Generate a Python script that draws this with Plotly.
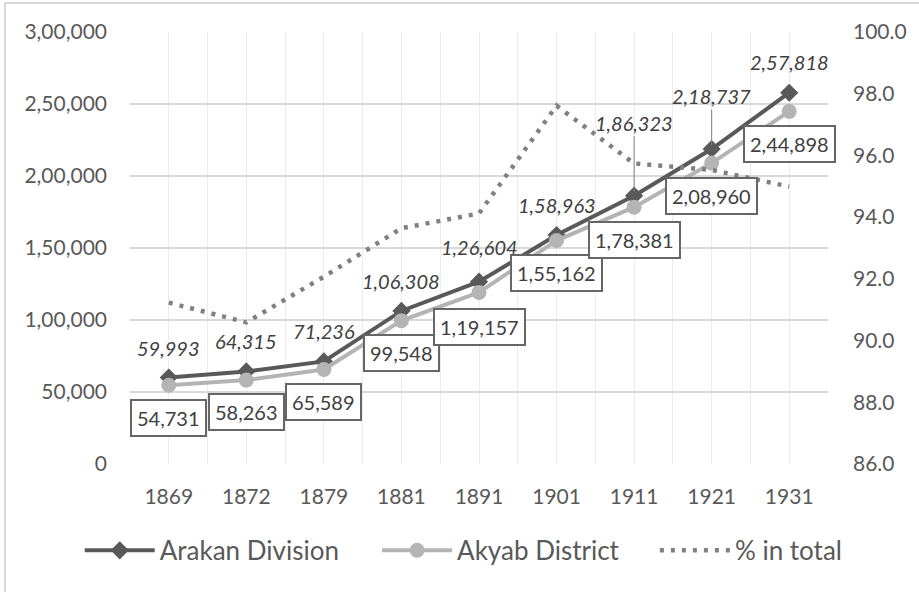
import plotly.graph_objects as go

years = ["1869", "1872", "1879", "1881", "1891", "1901", "1911", "1921", "1931"]
arakan = [59993, 64315, 71236, 106308, 126604, 158963, 186323, 218737, 257818]
akyab = [54731, 58263, 65589, 99548, 119157, 155162, 178381, 208960, 244898]
pct_total = [91.23, 90.59, 92.07, 93.64, 94.12, 97.61, 95.74, 95.53, 94.99]

left_tickvals = [0, 50000, 100000, 150000, 200000, 250000, 300000]
left_ticktext = ["0", "50,000", "1,00,000", "1,50,000", "2,00,000", "2,50,000", "3,00,000"]
right_tickvals = [86, 88, 90, 92, 94, 96, 98, 100]


def indian(n):
    s = str(n)
    if len(s) <= 3:
        return s
    head, tail = s[:-3], s[-3:]
    parts = []
    while len(head) > 2:
        parts.insert(0, head[-2:])
        head = head[:-2]
    if head:
        parts.insert(0, head)
    return ",".join(parts) + "," + tail


idx = list(range(len(years)))
FONT = "Lato"
TXT = "#595959"
LBL = "#404040"

fig = go.Figure()
fig.add_trace(go.Scatter(
    x=idx, y=arakan, name="Arakan Division", mode="lines+markers", legend="legend",
    line=dict(color="#595959", width=4),
    marker=dict(symbol="diamond", size=14, color="#595959"),
))
fig.add_trace(go.Scatter(
    x=idx, y=akyab, name="Akyab District", mode="lines+markers", legend="legend2",
    line=dict(color="#b4b4b4", width=4),
    marker=dict(symbol="circle", size=15, color="#b4b4b4"),
))
fig.add_trace(go.Scatter(
    x=idx, y=pct_total, name="% in total", mode="lines", yaxis="y2", legend="legend3",
    line=dict(color="#808080", width=4.5, dash="4px,7px"),
))

# label offsets (pixels) for Arakan labels above points
arakan_dy = [30, 30, 30, 30, 35, 30, 73, 53, 31]
arakan_leader = [False, False, False, False, False, False, True, True, False]
for i, v in enumerate(arakan):
    txt = "<i>" + indian(v) + "</i>"
    if arakan_leader[i]:
        fig.add_annotation(x=i, y=v, text=txt, showarrow=True,
                           ax=0, ay=-arakan_dy[i], arrowhead=0, arrowwidth=1,
                           arrowcolor="#7f7f7f", standoff=4,
                           font=dict(family=FONT, size=20, color=LBL))
    else:
        fig.add_annotation(x=i, y=v, text=txt, showarrow=False,
                           yshift=arakan_dy[i],
                           font=dict(family=FONT, size=20, color=LBL))

akyab_dy = [-33, -32, -32, -32, -35, -32, -33, -33, -33]
for i, v in enumerate(akyab):
    fig.add_annotation(x=i, y=v, text=indian(v), showarrow=False,
                       yshift=akyab_dy[i],
                       font=dict(family=FONT, size=20, color=LBL),
                       bgcolor="white", bordercolor="#666666", borderwidth=2,
                       borderpad=5)

leg_common = dict(orientation="h", y=-0.2, yanchor="middle", xanchor="left",
                  font=dict(family=FONT, size=26, color=TXT), itemwidth=70,
                  bgcolor="rgba(0,0,0,0)")

fig.update_layout(
    width=919, height=592,
    margin=dict(l=130, r=91, t=32, b=128, autoexpand=False),
    paper_bgcolor="white", plot_bgcolor="white",
    font=dict(family=FONT, color=TXT, size=21),
    showlegend=True,
    legend=dict(x=-0.072, **leg_common),
    legend2=dict(x=0.354, **leg_common),
    legend3=dict(x=0.752, **leg_common),
    xaxis=dict(range=[-0.5, len(years) - 0.5], tickvals=idx, ticktext=years,
               showgrid=True, gridcolor="#ececec", gridwidth=1,
               minor=dict(dtick=0.5, tick0=-0.5, showgrid=True, gridcolor="#ececec", gridwidth=1),
               zeroline=False, showline=False, ticks="", automargin=False,
               ticklabelstandoff=18,
               tickfont=dict(family=FONT, size=21, color=TXT)),
    yaxis=dict(range=[0, 300000], tickvals=left_tickvals, ticktext=left_ticktext,
               showgrid=True, gridcolor="#d9d9d9", gridwidth=1.5, zeroline=False,
               showline=False, ticks="", ticklabelstandoff=22, automargin=False,
               tickfont=dict(family=FONT, size=21, color=TXT)),
    yaxis2=dict(range=[86, 100], tickvals=right_tickvals, tickformat=".1f",
                overlaying="y", side="right", showgrid=False, zeroline=False,
                showline=False, ticks="", ticklabelstandoff=24, automargin=False,
                tickfont=dict(family=FONT, size=21, color=TXT)),
    shapes=[dict(type="rect", xref="paper", yref="paper",
                 x0=-0.179, x1=1.15, y0=-0.4, y1=1.067,
                 line=dict(color="#d9d9d9", width=2), layer="below")],
)

fig.write_html("out.html", config={"displayModeBar": False},
               post_script="document.body.style.margin='0';document.body.style.padding='0';")
